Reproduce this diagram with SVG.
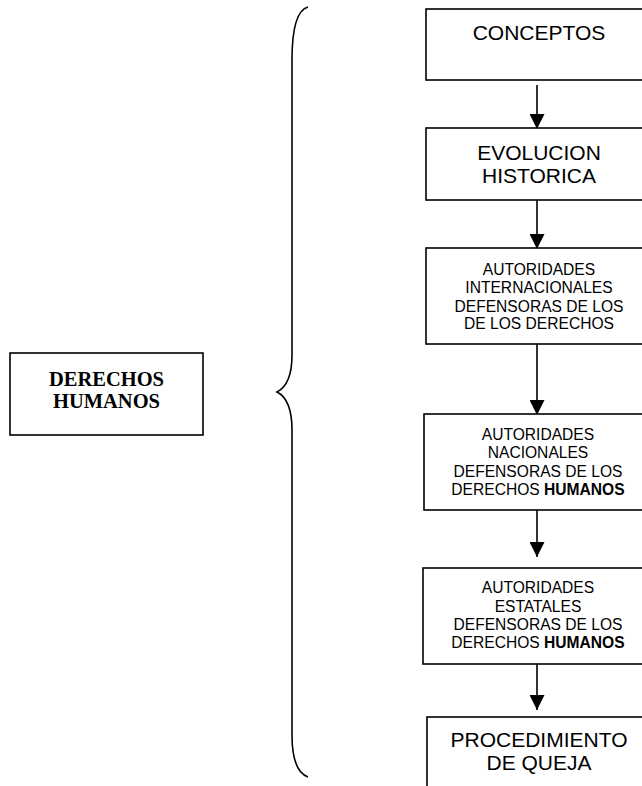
<svg xmlns="http://www.w3.org/2000/svg" width="642" height="786" viewBox="0 0 642 786">
<defs>
<style>
.box{fill:#fff;stroke:#000;stroke-width:1.6}
.t{font-family:"Liberation Sans",Arial,sans-serif;fill:#000;text-anchor:middle}
.big{font-size:21px}
.sm{font-size:15.6px}
.b{font-weight:bold}
.serif{font-family:"Liberation Serif","Times New Roman",serif;font-weight:bold;font-size:20.5px;text-anchor:middle;fill:#000}
.con{stroke:#000;stroke-width:1.6;fill:none}
</style>
<marker id="ah" viewBox="0 0 15 15" refX="15" refY="7.5" markerWidth="15" markerHeight="15" markerUnits="userSpaceOnUse" orient="auto">
<path d="M0,0 L15,7.5 L0,15 Z" fill="#000"/>
</marker>
</defs>
<rect width="642" height="786" fill="#fff"/>
<g id="connectors">
<line class="con" x1="537" y1="85" x2="537" y2="129" marker-end="url(#ah)"/>
<line class="con" x1="537" y1="200" x2="537" y2="249" marker-end="url(#ah)"/>
<line class="con" x1="537" y1="344" x2="537" y2="415" marker-end="url(#ah)"/>
<line class="con" x1="537" y1="510" x2="537" y2="557" marker-end="url(#ah)"/>
<line class="con" x1="537" y1="664" x2="537" y2="710" marker-end="url(#ah)"/>
<path id="brace" class="con" d="M308,7 C297,10 292,30 292,60 L292,355 C292,378 285,388 277,392 C285,396 292,406 292,430 L292,735 C292,760 297,773 308,777"/>
</g>
<g id="derechos">
<rect class="box" x="10" y="353" width="193" height="82"/>
<text class="serif" x="106.5" y="386">DERECHOS</text>
<text class="serif" x="106.5" y="408">HUMANOS</text>
</g>
<g id="conceptos">
<rect class="box" x="426" y="9" width="226" height="71"/>
<text class="t big" x="539" y="40">CONCEPTOS</text>
</g>
<g id="evolucion">
<rect class="box" x="426" y="128" width="226" height="72"/>
<text class="t big" x="539" y="160">EVOLUCION</text>
<text class="t big" x="539" y="183">HISTORICA</text>
</g>
<g id="internacionales">
<rect class="box" x="426" y="248" width="226" height="96"/>
<text class="t sm" x="539" y="275">AUTORIDADES</text>
<text class="t sm" x="539" y="293">INTERNACIONALES</text>
<text class="t sm" x="539" y="312">DEFENSORAS DE LOS</text>
<text class="t sm" x="539" y="329">DE LOS DERECHOS</text>
</g>
<g id="nacionales">
<rect class="box" x="424" y="414" width="228" height="96"/>
<text class="t sm" x="538" y="440">AUTORIDADES</text>
<text class="t sm" x="538" y="458">NACIONALES</text>
<text class="t sm" x="538" y="477">DEFENSORAS DE LOS</text>
<text class="t sm" x="538" y="495">DERECHOS <tspan class="b">HUMANOS</tspan></text>
</g>
<g id="estatales">
<rect class="box" x="423" y="568" width="229" height="96"/>
<text class="t sm" x="538" y="593">AUTORIDADES</text>
<text class="t sm" x="538" y="612">ESTATALES</text>
<text class="t sm" x="538" y="630">DEFENSORAS DE LOS</text>
<text class="t sm" x="538" y="648">DERECHOS <tspan class="b">HUMANOS</tspan></text>
</g>
<g id="procedimiento">
<rect class="box" x="427" y="717" width="225" height="90"/>
<text class="t big" x="539" y="747">PROCEDIMIENTO</text>
<text class="t big" x="539" y="770">DE QUEJA</text>
</g>
</svg>
